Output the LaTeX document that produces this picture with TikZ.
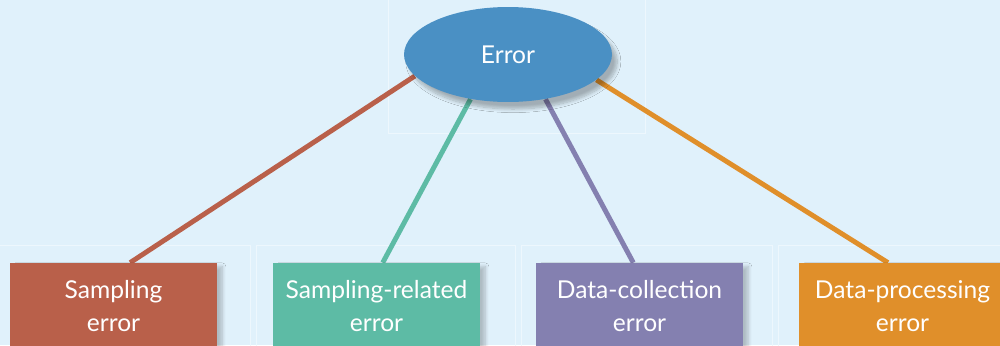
\documentclass[tikz,border=0pt]{standalone}
\usepackage{fontspec}
\setmainfont{Lato}
\usetikzlibrary{calc,shapes.geometric,shadows.blur,backgrounds}
\definecolor{bgblue}{HTML}{E0F1FB}
\definecolor{panelline}{HTML}{EDF7FD}
\definecolor{errblue}{HTML}{4A90C4}
\definecolor{samred}{HTML}{B9604A}
\definecolor{relteal}{HTML}{5DBBA5}
\definecolor{colpurple}{HTML}{8480B0}
\definecolor{procorange}{HTML}{E08F2A}

\tikzset{
  catbox/.style={rectangle, minimum width=4.14cm, minimum height=1.72cm, inner sep=0pt,
    align=center, text=white, font=\fontsize{14}{18.7}\selectfont,
    blur shadow={shadow xshift=3pt, shadow yshift=-2pt, shadow blur steps=8, shadow opacity=22}},
  link/.style={line width=2.8pt}
}

\begin{document}
\begin{tikzpicture}[x=0.02cm, y=-0.02cm]
\clip (0,0) rectangle (1000,345);

\node [ellipse, fill=errblue, minimum width=4.16cm, minimum height=1.9cm, inner sep=0pt,
  text=white, font=\fontsize{14}{16}\selectfont,
  blur shadow={shadow xshift=3pt, shadow yshift=-4pt, shadow blur steps=10, shadow opacity=28}]
  (err) at (508,54.5) {Error};

\node [catbox, fill=samred] (samp) at (113.5,306) {Sampling\\error};
\node [catbox, fill=relteal] (rel) at (376.5,306) {Sampling-related\\error};
\node [catbox, fill=colpurple] (coll) at (639.5,306) {Data-collection\\error};
\node [catbox, fill=procorange] (proc) at (902.5,306) {Data-processing\\error};

\begin{pgfonlayer}{background}
\fill [bgblue] (0,0) rectangle (1000,345);
% faint panels
\draw [panelline, thin] (388,-2) rectangle (645,133);
\draw [panelline, thin] (-2,245) rectangle (250,350);
\draw [panelline, thin] (256,245) rectangle (515,350);
\draw [panelline, thin] (521,245) rectangle (772,350);
\draw [panelline, thin] (778,245) rectangle (1002,350);
% links
\draw [link, samred] ($(samp.north)!0.16!(samp.north east)$) -- (err.193);
\draw [link, relteal] ($(rel.north)!0.06!(rel.north east)$) -- (err.230);
\draw [link, colpurple] ($(coll.north)!0.06!(coll.north west)$) -- (err.310);
\draw [link, procorange] ($(proc.north)!0.14!(proc.north west)$) -- (err.344);
\end{pgfonlayer}
\end{tikzpicture}
\end{document}
